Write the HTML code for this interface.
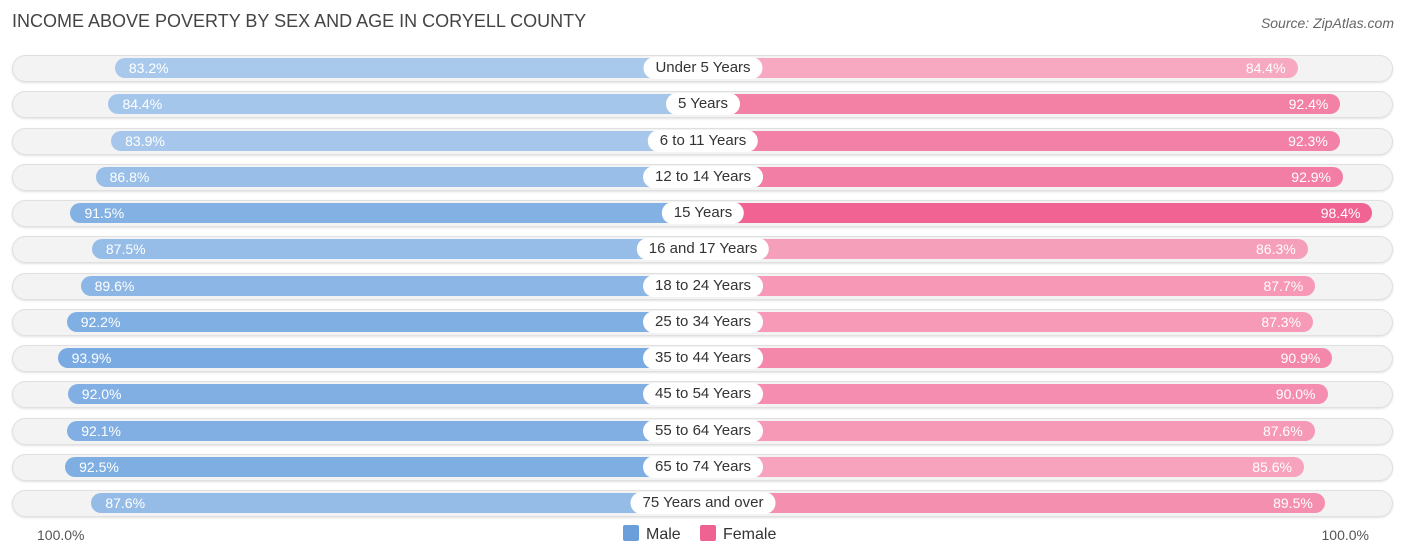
<!DOCTYPE html>
<html><head><meta charset="utf-8"><style>
body{margin:0;background:#fff;font-family:"Liberation Sans",sans-serif;}
#wrap{position:relative;width:1406px;height:559px;overflow:hidden;}
.title{position:absolute;left:12px;top:11px;font-size:18px;color:#444;}
.src{position:absolute;right:12px;top:15px;font-size:14px;color:#666;font-style:italic;}
.rowbg{position:absolute;left:12px;width:1381px;height:27px;border-radius:14px;background:#f3f3f3;box-shadow:inset 0 0 0 1px #e0e0e0, 0 1px 2px rgba(0,0,0,0.12);}
.bar{position:absolute;height:20px;border-radius:10px;}
.val{position:absolute;font-size:14px;color:#fff;top:2px;}
.lab{position:absolute;height:22px;line-height:22px;background:#fff;border-radius:11px;font-size:15px;color:#333;padding:0 12px;transform:translateX(-50%);white-space:nowrap;}
.axl{position:absolute;top:527px;font-size:14px;color:#555;}
.leg{position:absolute;top:525px;font-size:16px;color:#333;}
.sw{display:inline-block;width:16px;height:16px;border-radius:2px;vertical-align:-2px;margin-right:7px;}
</style></head><body>
<div id="wrap">
<div class="title">INCOME ABOVE POVERTY BY SEX AND AGE IN CORYELL COUNTY</div>
<div class="src">Source: ZipAtlas.com</div>
<div id="rows"></div>
<div class="axl" style="left:37px">100.0%</div>
<div class="axl" style="right:37px">100.0%</div>
<div class="leg" style="left:623px"><span class="sw" style="background:#6a9fdc"></span>Male</div>
<div class="leg" style="left:700px"><span class="sw" style="background:#f06292"></span>Female</div>
</div>
<script>
const categories=["Under 5 Years","5 Years","6 to 11 Years","12 to 14 Years","15 Years","16 and 17 Years","18 to 24 Years","25 to 34 Years","35 to 44 Years","45 to 54 Years","55 to 64 Years","65 to 74 Years","75 Years and over"];
const maleValues=[83.2,84.4,83.9,86.8,91.5,87.5,89.6,92.2,93.9,92.0,92.1,92.5,87.6];
const femaleValues=[84.4,92.4,92.3,92.9,98.4,86.3,87.7,87.3,90.9,90.0,87.6,85.6,89.5];
const CX=703, Y0=55, STEP=36.25;
function len(v){return 5.35*v+143;}
function mix(a,b,t){return 'rgb('+a.map((x,i)=>Math.round(x+(b[i]-x)*t)).join(',')+')';}
function tOf(v){return Math.max(0,Math.min(1,(v-83)/(98.5-83)));}
const rows=document.getElementById('rows');
categories.forEach((c,i)=>{
  const y=Y0+i*STEP;
  const bg=document.createElement('div');bg.className='rowbg';bg.style.top=y+'px';
  
  
  rows.appendChild(bg);
  const m=maleValues[i], f=femaleValues[i];
  const mb=document.createElement('div');mb.className='bar';
  const ml=len(m);
  mb.style.left=(CX-ml)+'px';mb.style.width=ml+'px';mb.style.top=(y+3)+'px';
  mb.style.background=mix([170,202,236],[100,156,220],tOf(m));
  
  
  const mv=document.createElement('div');mv.className='val';mv.style.left='14px';mv.textContent=m.toFixed(1)+'%';
  
  
  mb.appendChild(mv);rows.appendChild(mb);
  const fb=document.createElement('div');fb.className='bar';
  const fl=len(f);
  fb.style.left=CX+'px';fb.style.width=fl+'px';fb.style.top=(y+3)+'px';
  fb.style.background=mix([248,176,198],[240,98,146],tOf(f));
  
  
  const fv=document.createElement('div');fv.className='val';fv.style.right='12px';fv.textContent=f.toFixed(1)+'%';
  
  
  fb.appendChild(fv);rows.appendChild(fb);
  const lb=document.createElement('div');lb.className='lab';lb.style.left=CX+'px';lb.style.top=(y+2)+'px';lb.textContent=c;
  
  
  rows.appendChild(lb);
});
</script>
</body></html>
